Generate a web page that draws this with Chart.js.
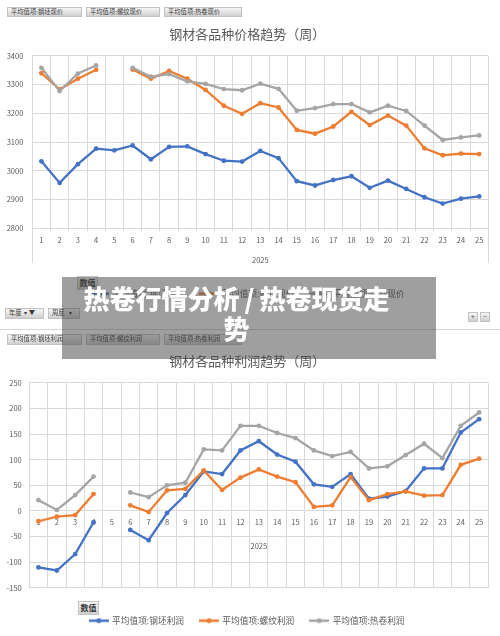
<!DOCTYPE html>
<html lang="zh-CN">
<head>
<meta charset="utf-8">
<title>热卷行情分析/热卷现货走势</title>
<script src="https://cdn.jsdelivr.net/npm/chart.js@4.4.1/dist/chart.umd.min.js"></script>
<style>
  html, body { margin: 0; padding: 0; }
  body { width: 500px; height: 636px; position: relative; overflow: hidden; background: #fff;
         font-family: "Noto Sans CJK SC", "Liberation Sans", sans-serif; }
  canvas { position: absolute; left: 0; }
  #priceChart { top: 20px; }
  #profitChart { top: 345px; }
  .field { position: absolute; height: 10px; box-sizing: border-box; padding: 0 3px;
           font-size: 6.3px; line-height: 8px; color: #3a3a3a; white-space: nowrap; overflow: hidden;
           background: linear-gradient(#f6f6f6, #d0d0d0); border: 1px solid #c2c2c2; }
  .value-btn { height: 14px; width: 21px; padding: 0; text-align: center; font-size: 8px; line-height: 12px; font-weight: bold; color: #333; }
  .sep { position: absolute; left: 0; width: 500px; top: 329px; height: 1px; background: #d6d6d6; }
  #banner { position: absolute; left: 62px; top: 277px; width: 374px; height: 82px;
            background: rgba(64, 64, 64, 0.5); z-index: 10; }
  #banner div { position: absolute; left: 0; top: 0; width: 349px; padding-top: 6px; text-align: center;
                color: #fff; font-weight: 900; font-size: 26px; line-height: 30px; }
  #banner .sl { margin: 0 5px; }
</style>
</head>
<body>
<!-- pivot field buttons, price chart -->
<div class="field" style="left:7px; top:7px; width:75px;">平均值项:钢坯现价</div>
<div class="field" style="left:86px; top:7px; width:74px;">平均值项:螺纹现价</div>
<div class="field" style="left:164px; top:7px; width:78px;">平均值项:热卷现价</div>

<canvas id="priceChart" width="500" height="288"></canvas>

<div class="field value-btn" style="left:77px; top:276px;">数值</div>
<div class="field" style="left:5px; top:308px; width:39px; height:11px;">年度 &nbsp;▾ ▼</div>
<div class="field" style="left:48px; top:308px; width:32px; height:11px;">周度 &nbsp; ▾</div>
<div class="field" style="left:468px; top:312px; width:10px; text-align:center; padding:0;">+</div>
<div class="field" style="left:480px; top:312px; width:10px; text-align:center; padding:0;">−</div>
<div class="sep"></div>

<!-- pivot field buttons, profit chart -->
<div class="field" style="left:7px; top:334px; width:75px; height:11px;">平均值项:钢坯利润</div>
<div class="field" style="left:86px; top:334px; width:74px; height:11px;">平均值项:螺纹利润</div>
<div class="field" style="left:164px; top:334px; width:78px; height:11px;">平均值项:热卷利润</div>

<canvas id="profitChart" width="500" height="290"></canvas>

<div class="field value-btn" style="left:78px; top:601px;">数值</div>

<div id="banner"><div>热卷行情分析<span class="sl">/</span>热卷现货走<br>势</div></div>

<script>
// week numbers (2025)
const weeks = ['1', '2', '3', '4', '5', '6', '7', '8', '9', '10', '11', '12', '13',
               '14', '15', '16', '17', '18', '19', '20', '21', '22', '23', '24', '25'];
const yearLabel = '2025';

// weekly average prices
const billetPrice = [3033, 2958, 3023, 3077, 3071, 3088, 3040, 3083, 3085, 3058, 3035, 3032, 3069,
                     3044, 2964, 2949, 2968, 2981, 2941, 2966, 2937, 2908, 2886, 2903, 2911];
const rebarPrice = [3339, 3283, 3320, 3351, null, 3352, 3320, 3347, 3320, 3281, 3226, 3198, 3235,
                    3220, 3142, 3129, 3154, 3205, 3159, 3192, 3157, 3078, 3054, 3060, 3058];
const hrcPrice = [3358, 3277, 3338, 3366, null, 3358, 3327, 3336, 3311, 3302, 3284, 3280, 3303,
                  3285, 3209, 3218, 3232, 3232, 3203, 3226, 3208, 3157, 3107, 3116, 3123];

// weekly average profits
const billetProfit = [-110, -116, -84, -22, null, -37, -57, -4, 31, 77, 72, 118, 136,
                      110, 96, 52, 47, 72, 24, 28, 39, 83, 83, 153, 179];
const rebarProfit = [-20, -11, -8, 33, null, 11, -2, 40, 43, 79, 41, 65, 81,
                     67, 56, 8, 11, 66, 21, 33, 38, 30, 31, 90, 102];
const hrcProfit = [21, 2, 31, 67, null, 36, 27, 50, 55, 120, 118, 166, 166,
                   152, 142, 118, 107, 115, 83, 87, 109, 131, 103, 166, 192];

// axis ranges
const priceAxis = { min: 2800, max: 3400, step: 100 };
const profitAxis = { min: -150, max: 250, step: 50 };

const priceNames = ['平均值项:钢坯现价', '平均值项:螺纹现价', '平均值项:热卷现价'];
const profitNames = ['平均值项:钢坯利润', '平均值项:螺纹利润', '平均值项:热卷利润'];
const colors = ['#4472C4', '#ED7D31', '#A5A5A5'];

const gridColor = '#d9d9d9';
const textColor = '#595959';

Chart.defaults.font.family = '"Noto Sans CJK SC", "Liberation Sans", sans-serif';
Chart.defaults.color = textColor;

// legend marker: short line with a dot, like the excel legend
function legendMark(color) {
    const c = document.createElement('canvas');
    c.width = 20;
    c.height = 8;
    const g = c.getContext('2d');
    g.strokeStyle = color;
    g.lineWidth = 2.5;
    g.beginPath();
    g.moveTo(0, 4);
    g.lineTo(20, 4);
    g.stroke();
    g.fillStyle = color;
    g.beginPath();
    g.arc(10, 4, 2.5, 0, Math.PI * 2);
    g.fill();
    return c;
}
const marks = colors.map(legendMark);

function series(label, data, i) {
    return {
        label: label,
        data: data,
        borderColor: colors[i],
        backgroundColor: colors[i],
        borderWidth: 2.3,
        pointRadius: 2.4,
        pointBorderWidth: 0,
        spanGaps: false,
        order: 2 - i   // later series on top, as in excel
    };
}

// vertical lines under the plot that frame the year group
const yearFrame = {
    id: 'yearFrame',
    beforeDatasetsDraw(chart, args, opts) {
        const { ctx, chartArea } = chart;
        ctx.save();
        ctx.strokeStyle = gridColor;
        ctx.lineWidth = 1;
        ctx.beginPath();
        [chartArea.left, chartArea.right].forEach(x => {
            const px = Math.round(x) + 0.5;
            ctx.moveTo(px, chartArea.bottom);
            ctx.lineTo(px, chartArea.bottom + opts.depth);
        });
        ctx.stroke();
        ctx.restore();
    }
};

function buildOptions(cfg) {
    return {
        responsive: false,
        animation: false,
        layout: { padding: { left: 6, right: 11.7, top: 0, bottom: 0 } },
        plugins: {
            title: {
                display: true,
                text: cfg.title,
                color: textColor,
                font: { size: 13, weight: 'normal' },
                padding: cfg.titlePadding
            },
            legend: {
                position: 'bottom',
                title: { display: true, text: '', font: { size: 1 }, padding: { top: cfg.legendGap, bottom: 0 } },
                labels: {
                    usePointStyle: true,
                    pointStyleWidth: 18,
                    padding: 16,
                    color: textColor,
                    font: { size: 8.7 },
                    sort: (a, b) => a.datasetIndex - b.datasetIndex,
                    generateLabels: (chart) =>
                        Chart.defaults.plugins.legend.labels.generateLabels(chart).map(item => {
                            item.pointStyle = marks[item.datasetIndex];
                            return item;
                        })
                }
            },
            tooltip: { enabled: false },
            yearFrame: { depth: cfg.frameDepth }
        },
        scales: {
            x: {
                type: 'category',
                offset: true,
                position: cfg.xPosition,
                grid: { color: gridColor, offset: true, drawTicks: cfg.xTickLength > 0, tickLength: cfg.xTickLength },
                border: { color: gridColor },
                ticks: { color: textColor, font: { size: 7.5 }, padding: cfg.xTickPadding, maxRotation: 0, autoSkip: false },
                title: { display: true, text: yearLabel, color: textColor, font: { size: 7.5 }, padding: { top: cfg.yearPad, bottom: 0 } }
            },
            y: {
                min: cfg.axis.min,
                max: cfg.axis.max,
                grid: { color: gridColor, drawTicks: false },
                border: { display: false },
                ticks: {
                    stepSize: cfg.axis.step,
                    color: textColor,
                    font: { size: 7.5 },
                    padding: cfg.yTickPadding,
                    callback: (value) => String(value)   // no thousands separator
                },
                afterFit: (scale) => { scale.width = cfg.yWidth; }
            }
        }
    };
}

new Chart(document.getElementById('priceChart').getContext('2d'), {
    type: 'line',
    data: {
        labels: weeks,
        datasets: [
            series(priceNames[0], billetPrice, 0),
            series(priceNames[1], rebarPrice, 1),
            series(priceNames[2], hrcPrice, 2)
        ]
    },
    options: buildOptions({
        title: '钢材各品种价格趋势（周）',
        titlePadding: { top: 6.5, bottom: 13.6 },
        legendGap: 6.95,
        axis: priceAxis,
        xPosition: 'bottom',
        xTickLength: 3,
        xTickPadding: 4,
        yearPad: 7.8,
        yTickPadding: 9,
        yWidth: 26.3,
        frameDepth: 34
    }),
    plugins: [yearFrame]
});

new Chart(document.getElementById('profitChart').getContext('2d'), {
    type: 'line',
    data: {
        labels: weeks,
        datasets: [
            series(profitNames[0], billetProfit, 0),
            series(profitNames[1], rebarProfit, 1),
            series(profitNames[2], hrcProfit, 2)
        ]
    },
    options: buildOptions({
        title: '钢材各品种利润趋势（周）',
        titlePadding: { top: 8.2, bottom: 13.9 },
        legendGap: 11.15,
        axis: profitAxis,
        xPosition: { y: 0 },
        xTickLength: 0,
        xTickPadding: 6.3,
        yearPad: 9,
        yTickPadding: 7.6,
        yWidth: 23.3,
        frameDepth: 0
    })
});
</script>
</body>
</html>
